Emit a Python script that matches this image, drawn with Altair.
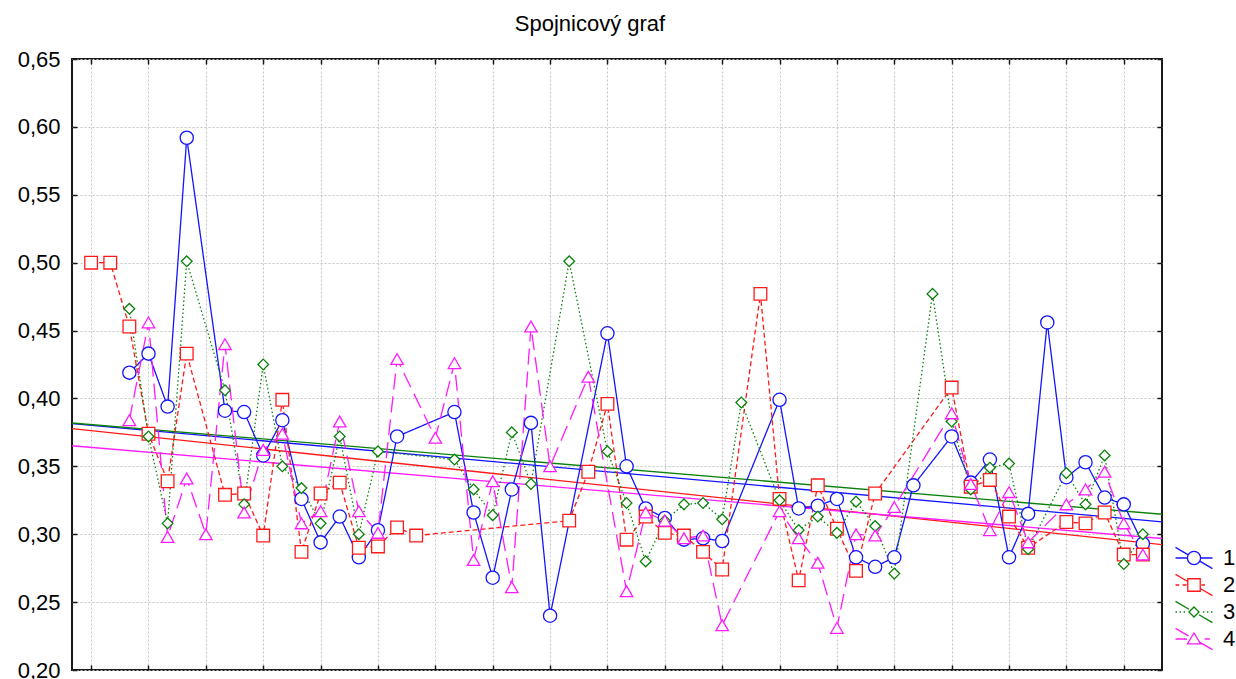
import altair as alt
import pandas as pd

# x positions of the observations (56 samples per series)
IDX = list(range(56))

# series values, None where the observation is missing
S1 = [None, None, 0.419, 0.433, 0.394, 0.592, None, 0.391, 0.390, 0.358,
      0.384, 0.326, 0.294, 0.313, 0.283, 0.303, 0.372, None, None, 0.390,
      0.316, 0.268, 0.333, 0.382, 0.240, None, None, 0.448, 0.350, 0.319,
      0.312, 0.296, 0.297, 0.295, None, None, 0.399, 0.319, 0.321, 0.326,
      0.283, 0.276, 0.283, 0.336, None, 0.372, 0.338, 0.355, 0.283, 0.315,
      0.456, 0.342, 0.353, 0.327, 0.322, 0.293]
S2 = [0.500, 0.500, 0.453, 0.374, 0.339, 0.433, None, 0.329, 0.330, 0.299,
      0.399, 0.287, 0.330, 0.338, 0.290, 0.291, 0.305, 0.299, None, None,
      None, None, None, None, None, 0.310, 0.346, 0.396, 0.296, 0.313,
      0.301, 0.299, 0.287, 0.274, None, 0.477, 0.326, 0.266, 0.336, 0.304,
      0.273, 0.330, None, None, None, 0.408, 0.335, 0.340, 0.313, 0.290,
      None, 0.309, 0.308, 0.316, 0.285, 0.285]
S3 = [None, None, 0.466, 0.372, 0.308, 0.501, None, 0.406, 0.322, 0.425,
      0.350, 0.334, 0.308, 0.372, 0.300, 0.361, None, None, None, 0.355,
      0.333, 0.314, 0.375, 0.337, None, 0.501, None, 0.361, 0.323, 0.280,
      0.310, 0.322, 0.323, 0.311, 0.397, None, 0.325, 0.303, 0.313, 0.301,
      0.324, 0.306, 0.271, None, 0.477, 0.383, 0.333, 0.349, 0.352, 0.289,
      None, 0.345, 0.322, 0.358, 0.278, 0.300]
S4 = [None, None, 0.384, 0.456, 0.298, 0.341, 0.300, 0.440, 0.316, 0.362,
      0.374, 0.308, 0.317, 0.383, 0.317, 0.301, 0.429, None, 0.371, 0.426,
      0.281, 0.339, 0.261, 0.453, 0.350, None, 0.416, None, 0.258, 0.316,
      0.310, 0.297, 0.299, 0.233, None, None, 0.317, 0.297, 0.279, 0.231,
      0.300, 0.299, 0.320, None, None, 0.389, 0.337, 0.303, 0.331, 0.294,
      None, 0.322, 0.333, 0.346, 0.308, 0.285]

SERIES = ["1", "2", "3", "4"]
COLORS = ["#1414ff", "#ff1a1a", "#0a820a", "#ff1aff"]
DASHES = [[1, 0], [5, 3], [1.5, 2.5], [16, 7]]
SHAPES = ["circle", "square", "diamond", "triangle-up"]
SIZES = [175, 160, 115, 155]

# legend glyphs (box is 24 px, drawn 37 px wide): line piece,
# marker outline and the crossing fit line
LEGEND_PATHS = [
    "M-1.54,0H-0.55M0.55,0H1.54"
    "M0.55,0A0.55,0.55 0 1,1 -0.55,0A0.55,0.55 0 1,1 0.55,0"
    "M-1.54,-0.89L-0.48,-0.26M0.48,0.26L1.54,0.89",
    "M-1.54,-0H-1.23M-0.95,0H-0.62M0.62,0H0.92"
    "M-0.52,-0.52H0.52V0.52H-0.52Z"
    "M-1.54,-0.89L-0.52,-0.29M0.52,0.29L1.54,0.89",
    "M-1.54,0H-1.42M-1.2,0H-1.08M-0.86,0H-0.74M0.74,0H0.86M1.08,0H1.2M1.42,0H1.54"
    "M0,-0.42L0.42,0L0,0.42L-0.42,0Z"
    "M-1.54,-0.89L-0.42,-0.23M0.42,0.23L1.54,0.89",
    "M-1.54,0H-0.58M0.9,0H1.32"
    "M0,-0.5L0.55,0.4H-0.55Z"
    "M-1.54,-0.89L-0.46,-0.26M0.46,0.26L1.54,0.89",
]

XTICKS = list(range(0, 55, 3))
YTICKS = [0.20, 0.25, 0.30, 0.35, 0.40, 0.45, 0.50, 0.55, 0.60, 0.65]

rows = []
for name, vals in zip(SERIES, [S1, S2, S3, S4]):
    for i, v in zip(IDX, vals):
        if v is not None:
            rows.append({"idx": i, "value": v, "series": name})
df = pd.DataFrame(rows)

FONT = "Liberation Sans"
xs = alt.Scale(domain=[-1, 56], nice=False, zero=False)
ys = alt.Scale(domain=[0.2, 0.65], nice=False, zero=False)

base = alt.Chart(df)

GRID = dict(grid=True, gridColor="#c4c4c4", gridDash=[2, 2], gridWidth=1,
            ticks=False, domain=False, title=None)
TICK_AXIS = dict(labels=False, ticks=True, tickSize=5, tickColor="#1a1a1a",
                 tickWidth=1.5, offset=-5, domain=False, grid=False, title=None)

# axis sets: grid + y labels, inward ticks bottom/left, inward ticks top/right
AXES = {
    "grid": (alt.Axis(orient="bottom", values=XTICKS, labels=False, **GRID),
             alt.Axis(orient="left", values=YTICKS,
                      labelExpr="replace(format(datum.value, '.2f'), '.', ',')",
                      labelFont=FONT, labelFontSize=22, labelColor="#000000",
                      labelPadding=12, **GRID)),
    "ticks_bl": (alt.Axis(orient="bottom", values=XTICKS, **TICK_AXIS),
                 alt.Axis(orient="left", values=YTICKS, **TICK_AXIS)),
    "ticks_tr": (alt.Axis(orient="top", values=XTICKS, **TICK_AXIS),
                 alt.Axis(orient="right", values=YTICKS, **TICK_AXIS)),
}


def xy(axes=None):
    ax, ay = AXES[axes] if axes else (None, None)
    return dict(x=alt.X("idx:Q", scale=xs, axis=ax),
                y=alt.Y("value:Q", scale=ys, axis=ay))


layers = []

# fitted linear trend per series, across the whole x range
for k, name in enumerate(SERIES):
    trend = base.transform_filter(alt.datum.series == name).transform_regression(
        "idx", "value", extent=[-1, 56]
    ).mark_line(color=COLORS[k], strokeWidth=1.3).encode(
        **xy("grid" if k == 0 else None))
    layers.append(trend)

# connecting lines
for k, name in enumerate(SERIES):
    line = base.transform_filter(alt.datum.series == name).mark_line(
        color=COLORS[k], strokeDash=DASHES[k], strokeWidth=1.3
    ).encode(**xy("ticks_bl" if k == 0 else None))
    layers.append(line)

# open markers
for k, name in enumerate(SERIES):
    pts = base.transform_filter(alt.datum.series == name).mark_point(
        shape=SHAPES[k], size=SIZES[k], stroke=COLORS[k], fill="white",
        filled=False, fillOpacity=1, opacity=1, strokeWidth=1.3
    ).encode(**xy("ticks_tr" if k == 0 else None))
    layers.append(pts)

LEGEND = alt.Legend(
    title=None, orient="none", legendX=1109, legendY=486,
    labelFont=FONT, labelFontSize=22, labelColor="#000000", labelOffset=16,
    symbolSize=576, symbolStrokeWidth=1.3, rowPadding=-1)

# empty layer that only holds the legend
legend_layer = base.transform_filter("false").mark_point(
    filled=False, opacity=1, strokeWidth=1.3
).encode(
    **xy(),
    color=alt.Color("series:N", scale=alt.Scale(domain=SERIES, range=COLORS),
                    legend=LEGEND),
    shape=alt.Shape("series:N", scale=alt.Scale(domain=SERIES, range=LEGEND_PATHS),
                    legend=LEGEND),
)
layers.append(legend_layer)

chart = alt.layer(*layers).resolve_axis(
    x="independent", y="independent"
).properties(
    width=1090,
    height=611,
    background="white",
    title=alt.TitleParams("Spojnicový graf", font=FONT, fontSize=22,
                          fontWeight="normal", color="#000000",
                          anchor="middle", dx=-27, offset=12),
    padding={"left": 72, "top": 59, "right": 74, "bottom": 9},
    autosize=alt.AutoSizeParams(type="none"),
).configure_view(
    stroke="#1a1a1a", strokeWidth=2
)

chart.save("out.html", embed_options={"renderer": "svg", "actions": False})
